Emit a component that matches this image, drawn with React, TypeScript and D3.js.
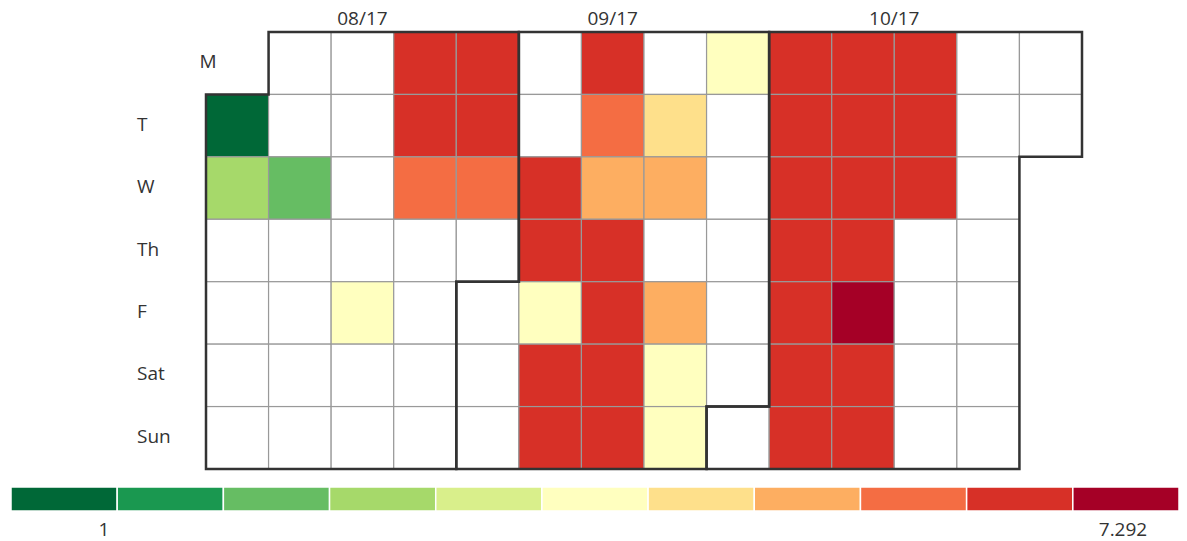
import * as d3 from "d3";
import React from "react";

// daily values, index = day of month - 1 (null = no data)
const augValues: (number | null)[] = [
  1, 3.0, null, null, null, null, null, null, 2.4, null,
  null, null, null, null, null, null, null, 4.1, null, null,
  6.4, 6.5, 5.9, null, null, null, null, 6.3, 6.6, 5.8,
  null,
];
const sepValues: (number | null)[] = [
  null, null, null, null, null, 6.4, 6.5, 4.0, 6.3, 6.6,
  6.5, 5.8, 5.3, 6.4, 6.6, 6.4, 6.3, null, 4.7, 5.2,
  null, 5.4, 4.2, 4.0, 4.1, null, null, null, null, null,
];
const octValues: (number | null)[] = [
  null, 6.5, 6.4, 6.6, 6.3, 6.5, 6.4, 6.6, 6.5, 6.3,
  6.4, 6.6, 7.292, 6.5, 6.4, 6.3, 6.6, 6.5, null, null,
  null, null, null, null, null, null, null, null, null, null,
  null,
];

const months = [
  { year: 2017, month: 7, values: augValues },
  { year: 2017, month: 8, values: sepValues },
  { year: 2017, month: 9, values: octValues },
];

const dayLabels = ["M", "T", "W", "Th", "F", "Sat", "Sun"];
const valueMin = 1;
const valueMax = 7.292;

const width = 1187;
const height = 541;
const font = "'Open Sans', sans-serif";

const App = () => {
  const days = months.flatMap((m) =>
    m.values.map((v, i) => ({ date: new Date(m.year, m.month, i + 1), value: v }))
  );
  const start = days[0].date;
  const end = days[days.length - 1].date;
  const firstMonday = d3.timeMonday.floor(start);
  const week = (d: Date) => d3.timeMonday.count(firstMonday, d);
  const dow = (d: Date) => (d.getDay() + 6) % 7;
  const nWeeks = week(end) + 1;

  const x = d3.scaleLinear().domain([0, nWeeks]).range([206, 1082]);
  const y = d3.scaleLinear().domain([0, 7]).range([32, 469]);

  const colors = d3.schemeRdYlGn[11].slice().reverse();
  const color = d3.scaleQuantize<string>().domain([valueMin, valueMax]).range(colors);

  const monthPath = (t0: Date, t1: Date) => {
    const d0 = dow(t0), w0 = week(t0);
    const d1 = dow(t1), w1 = week(t1);
    return (
      `M${x(w0 + 1)},${y(d0)}H${x(w0)}V${y(7)}` +
      `H${x(w1)}V${y(d1 + 1)}H${x(w1 + 1)}V${y(0)}H${x(w0 + 1)}Z`
    );
  };

  const monthInfo = months.map((m) => {
    const t0 = new Date(m.year, m.month, 1);
    const t1 = new Date(m.year, m.month + 1, 0);
    return {
      t0,
      t1,
      label: d3.timeFormat("%m/%y")(t0),
      cx: (x(week(t0)) + x(week(t1) + 1)) / 2,
    };
  });

  // legend
  const legend = d3.scaleBand<number>().domain(d3.range(11)).range([11, 1179]);
  const legendLabel = d3.scaleLinear().domain([valueMin, valueMax]).range([104, 1123]);

  return (
    <svg
      width={width}
      height={height}
      style={{ position: "absolute", left: 0, top: 0, background: "#fff" }}
      fontFamily={font}
    >
      {monthInfo.map((m) => (
        <text key={m.label} x={m.cx} y={25} textAnchor="middle" fontSize={19} fill="#333">
          {m.label}
        </text>
      ))}
      {dayLabels.map((lab, i) => {
        const first = days.find((d) => dow(d.date) === i)!;
        return (
          <text
            key={lab}
            x={x(week(first.date)) - 69}
            y={(y(i) + y(i + 1)) / 2 + 5}
            fontSize={19}
            fill="#333"
          >
            {lab}
          </text>
        );
      })}
      {days.map((d) => (
        <rect
          key={d.date.toISOString()}
          x={x(week(d.date))}
          y={y(dow(d.date))}
          width={x(1) - x(0)}
          height={y(1) - y(0)}
          fill={d.value == null ? "#fff" : color(d.value)}
          stroke="#999"
          strokeWidth={1.2}
        />
      ))}
      {monthInfo.map((m) => (
        <path key={m.label} d={monthPath(m.t0, m.t1)} fill="none" stroke="#333" strokeWidth={2.5} />
      ))}
      {colors.map((c, i) => (
        <rect
          key={c}
          x={legend(i)}
          y={487}
          width={legend.bandwidth()}
          height={24}
          fill={c}
          stroke="#fff"
          strokeWidth={1.5}
        />
      ))}
      <text x={legendLabel(valueMin)} y={536} textAnchor="middle" fontSize={19} fill="#333">
        {valueMin}
      </text>
      <text x={legendLabel(valueMax)} y={536} textAnchor="middle" fontSize={19} fill="#333">
        {valueMax}
      </text>
    </svg>
  );
};

export default App;
